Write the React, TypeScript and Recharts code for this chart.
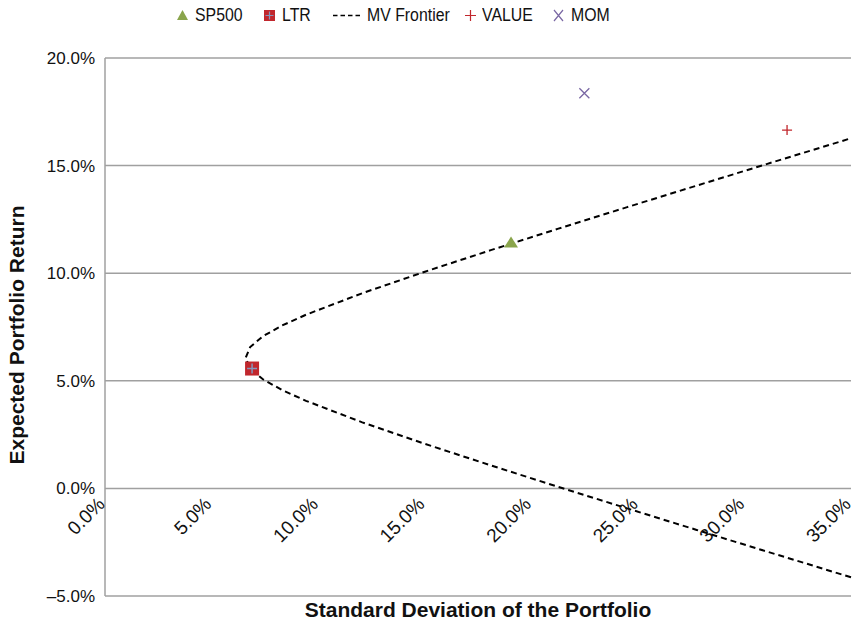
import React from "react";
import { ScatterChart, Scatter, XAxis, YAxis, CartesianGrid, Label } from "recharts";

// Mean-variance frontier (sd %, return %)
const frontierSd = [35.0, 31.04, 27.76, 24.5, 21.27, 18.1, 15.01, 12.07, 9.43, 8.31, 7.41, 6.81, 6.6, 6.81, 7.41, 8.31, 9.43, 12.07, 15.01, 18.1, 21.27, 24.5, 27.76, 31.04, 35.0];
const frontierRet = [-4.13, -2.93, -1.93, -0.93, 0.07, 1.07, 2.07, 3.07, 4.07, 4.57, 5.07, 5.57, 6.07, 6.57, 7.07, 7.57, 8.07, 9.07, 10.07, 11.07, 12.07, 13.07, 14.07, 15.07, 16.27];

const sp500 = [{ x: 19.05, y: 11.45 }];
const ltr = [{ x: 6.9, y: 5.57 }];
const value = [{ x: 32.0, y: 16.65 }];
const mom = [{ x: 22.49, y: 18.36 }];

const xTicks = [0, 5, 10, 15, 20, 25, 30, 35];
const yTicks = [-5, 0, 5, 10, 15, 20];
const xTickLabels = ["0.0%", "5.0%", "10.0%", "15.0%", "20.0%", "25.0%", "30.0%", "35.0%"];
const yTickLabels = ["\u20135.0%", "0.0%", "5.0%", "10.0%", "15.0%", "20.0%"];

const frontier = frontierSd.map((x, i) => ({ x, y: frontierRet[i] }));

const W = 856;
const H = 626;
const PLOT_TOP = 58;
const PLOT_BOTTOM = 596;
const Y_MIN = -5;
const Y_MAX = 20;
const ZERO_Y = PLOT_TOP + ((PLOT_BOTTOM - PLOT_TOP) * Y_MAX) / (Y_MAX - Y_MIN);

const FONT = "'Liberation Sans', Arial, Helvetica, sans-serif";
const GREEN = "#8aa54c";
const RED = "#c1272d";
const BLUEGREY = "#8496bd";
const PURPLE = "#7a68a4";

const XTick = (props: any) => {
  const { x, payload } = props;
  const i = xTicks.indexOf(payload.value);
  const tx = x + 1;
  const ty = ZERO_Y + 17;
  return (
    <text x={tx} y={ty} transform={`rotate(-45 ${tx} ${ty})`} textAnchor="end" fontSize={19} fill="#111" fontFamily={FONT}>
      {xTickLabels[i]}
    </text>
  );
};

const yFmt = (v: number) => yTickLabels[yTicks.indexOf(v)];

const Triangle = (p: any) => (
  <polygon points={`${p.cx - 7},${p.cy + 5.5} ${p.cx},${p.cy - 5.5} ${p.cx + 7},${p.cy + 5.5}`} fill={GREEN} />
);
const SquarePlus = (p: any) => (
  <g>
    <rect x={p.cx - 7} y={p.cy - 7} width={14} height={14} fill={RED} />
    <path d={`M${p.cx - 5},${p.cy}H${p.cx + 5}M${p.cx},${p.cy - 5}V${p.cy + 5}`} stroke={BLUEGREY} strokeWidth={1.5} />
  </g>
);
const Plus = (p: any) => (
  <path d={`M${p.cx - 5},${p.cy}H${p.cx + 5}M${p.cx},${p.cy - 5}V${p.cy + 5}`} stroke={RED} strokeWidth={1.3} />
);
const Cross = (p: any) => (
  <path d={`M${p.cx - 5},${p.cy - 5}L${p.cx + 5},${p.cy + 5}M${p.cx + 5},${p.cy - 5}L${p.cx - 5},${p.cy + 5}`} stroke={PURPLE} strokeWidth={1.3} />
);
const NoDot = () => <g />;

// legend layout: icon left edge, icon width, text left edge
const legendItems = [
  { name: "SP500", left: 177, w: 11, textLeft: 195, icon: <polygon points="0,11 5.5,1 11,11" fill={GREEN} /> },
  {
    name: "LTR",
    left: 264,
    w: 11,
    textLeft: 282,
    icon: (
      <g>
        <rect x={0} y={1} width={11} height={11} fill={RED} />
        <path d="M1.5,6.5H9.5M5.5,2.5V10.5" stroke={BLUEGREY} strokeWidth={1.2} />
      </g>
    ),
  },
  { name: "MV Frontier", left: 333, w: 27, textLeft: 367, icon: <line x1={0} y1={6.5} x2={27} y2={6.5} stroke="#000" strokeWidth={1.6} strokeDasharray="4.5 3" /> },
  { name: "VALUE", left: 465, w: 11, textLeft: 482, icon: <path d="M0,6.5H11M5.5,1V12" stroke={RED} strokeWidth={1.2} /> },
  { name: "MOM", left: 553, w: 11, textLeft: 571, icon: <path d="M1,1L10,12M10,1L1,12" stroke={PURPLE} strokeWidth={1.2} /> },
];

const AxisTitleX = (props: any) => {
  const { x, y, width } = props.viewBox;
  return (
    <text x={x + width / 2} y={y + 21} textAnchor="middle" fontSize={21} fontWeight="bold" fill="#111" fontFamily={FONT}>
      Standard Deviation of the Portfolio
    </text>
  );
};

const AxisTitleY = (props: any) => {
  const { y, height } = props.viewBox;
  const cx = 24;
  const cy = y + height / 2 + 8;
  return (
    <text x={cx} y={cy} transform={`rotate(-90 ${cx} ${cy})`} textAnchor="middle" fontSize={21} fontWeight="bold" fill="#111" fontFamily={FONT}>
      Expected Portfolio Return
    </text>
  );
};

export default function App() {
  return (
    <div style={{ position: "absolute", left: 0, top: 0, width: W, height: H, background: "#fff", fontFamily: FONT }}>
      {legendItems.map((it) => (
        <React.Fragment key={it.name}>
          <svg width={it.w} height={13} style={{ position: "absolute", left: it.left, top: 9 }}>
            {it.icon}
          </svg>
          <span style={{ position: "absolute", left: it.textLeft, top: 5, fontSize: 18, lineHeight: "20px", color: "#111", transform: "scaleX(0.88)", transformOrigin: "left center", whiteSpace: "nowrap" }}>
            {it.name}
          </span>
        </React.Fragment>
      ))}
      <ScatterChart width={W} height={H} margin={{ top: PLOT_TOP, right: 5, bottom: 0, left: 0 }}>
        <CartesianGrid vertical={false} stroke="#a0a0a0" strokeWidth={1.5} />
        <XAxis
          type="number"
          dataKey="x"
          domain={[0, 35]}
          ticks={xTicks}
          height={H - PLOT_BOTTOM}
          axisLine={false}
          tickLine={false}
          tick={<XTick />}
          interval={0}
        >
          <Label content={<AxisTitleX />} />
        </XAxis>
        <YAxis
          type="number"
          dataKey="y"
          domain={[Y_MIN, Y_MAX]}
          ticks={yTicks}
          width={105}
          axisLine={{ stroke: "#a0a0a0", strokeWidth: 1.5 }}
          tickLine={false}
          tickSize={0}
          tickMargin={10}
          tickFormatter={yFmt}
          tick={{ fontSize: 17, fill: "#111", fontFamily: FONT }}
          interval={0}
        >
          <Label content={<AxisTitleY />} />
        </YAxis>
        <Scatter
          name="MV Frontier"
          data={frontier}
          line={{ stroke: "#000", strokeWidth: 2, strokeDasharray: "6 4" }}
          lineType="joint"
          shape={<NoDot />}
          isAnimationActive={false}
        />
        <Scatter name="SP500" data={sp500} shape={<Triangle />} isAnimationActive={false} />
        <Scatter name="LTR" data={ltr} shape={<SquarePlus />} isAnimationActive={false} />
        <Scatter name="VALUE" data={value} shape={<Plus />} isAnimationActive={false} />
        <Scatter name="MOM" data={mom} shape={<Cross />} isAnimationActive={false} />
      </ScatterChart>
    </div>
  );
}
